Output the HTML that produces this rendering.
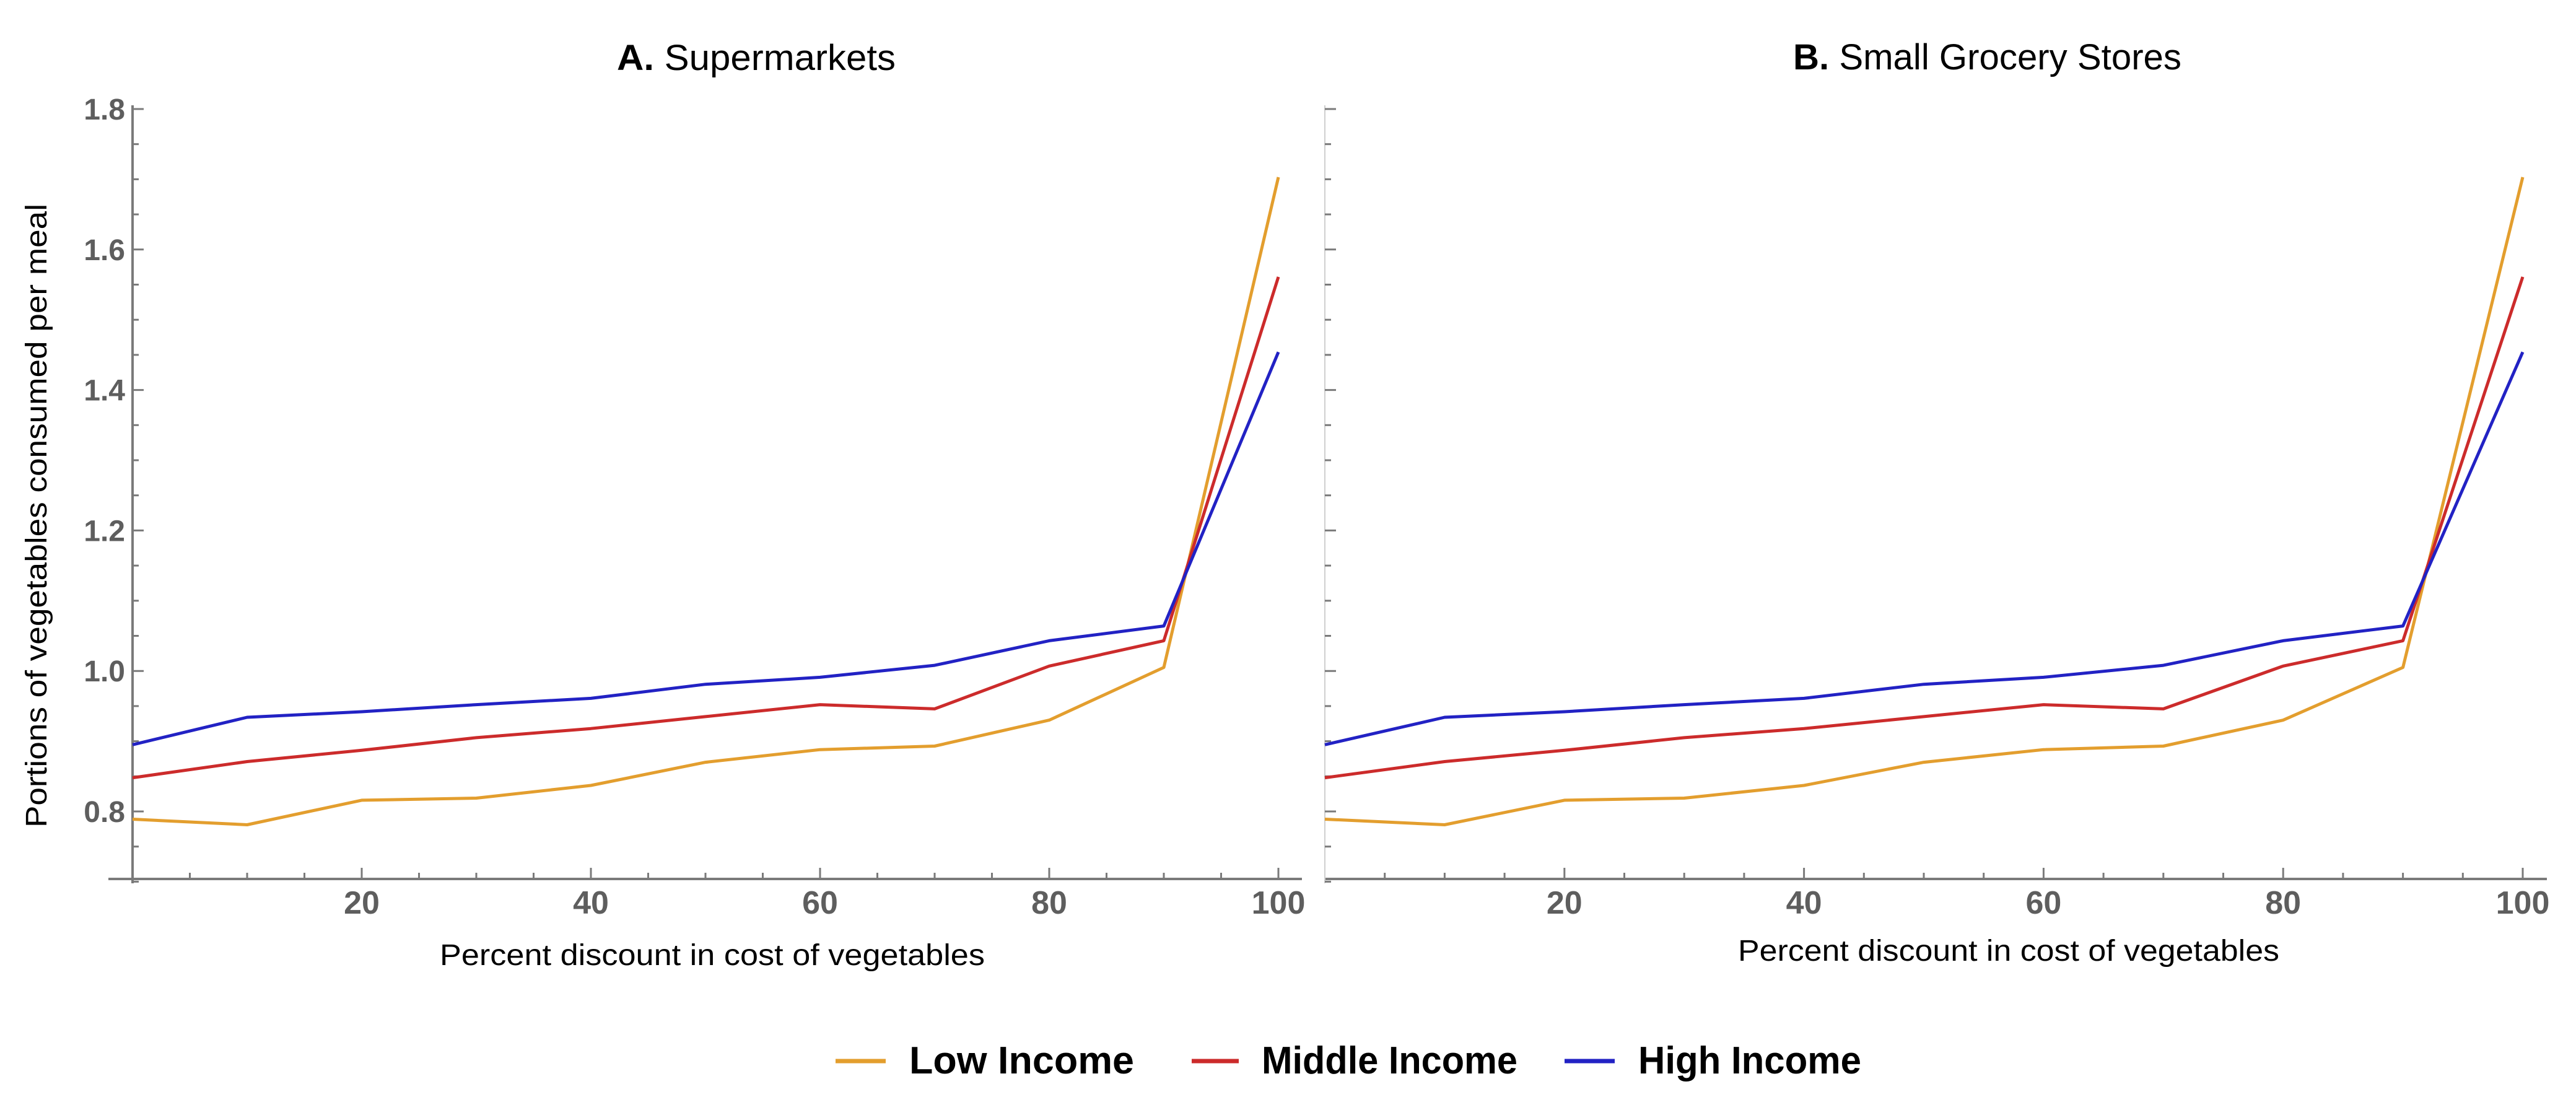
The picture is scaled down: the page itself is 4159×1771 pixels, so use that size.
<!DOCTYPE html>
<html><head><meta charset="utf-8"><style>
html,body{margin:0;padding:0;background:#fff;}
svg{display:block;}
</style></head><body>
<svg id="chart" width="4159" height="1771" viewBox="0 0 4159 1771" xmlns="http://www.w3.org/2000/svg" font-family="'Liberation Sans', sans-serif">
<g id="root"></g>
</svg>
<script>
const xValues = [0,10,20,30,40,50,60,70,80,90,100];
const lowIncome = [0.789,0.781,0.816,0.819,0.837,0.870,0.888,0.893,0.930,1.005,1.703];
const middleIncome = [0.848,0.871,0.887,0.905,0.918,0.935,0.952,0.946,1.007,1.043,1.561];
const highIncome = [0.895,0.934,0.942,0.952,0.961,0.981,0.991,1.008,1.043,1.064,1.454];
const yTickLabels = ["0.8","1.0","1.2","1.4","1.6","1.8"];
const yTickValues = [0.8,1.0,1.2,1.4,1.6,1.8];
const xTickValues = [20,40,60,80,100];
const seriesNames = ["Low Income","Middle Income","High Income"];

const NS="http://www.w3.org/2000/svg";
const root=document.getElementById('root');
function mk(tag,attrs,parent){const e=document.createElementNS(NS,tag);for(const k in attrs)e.setAttribute(k,attrs[k]);(parent||root).appendChild(e);return e;}

const colors=["#E39E2E","#CC2B2B","#2222C4"];
const series=[lowIncome,middleIncome,highIncome];
const seriesKeys=["low-income","middle-income","high-income"];

function yScale(v){return 1310 + (0.8 - v) * 1134;}

const panels=[
  {key:"a", x0:214, x100:2064, axisLeft:175, axisRight:2102, labels:true, axisColor:"#7a7a7a"},
  {key:"b", x0:2139, x100:4073, axisLeft:2139, axisRight:4112, labels:false, axisColor:"#cfcfcf"}
];

panels.forEach(p=>{
  const g=mk('g',{});
  
  
  const xs=v=>p.x0+(v/100)*(p.x100-p.x0);
  const axisY=1419;
  const xa=mk('line',{x1:p.axisLeft,y1:axisY,x2:p.axisRight,y2:axisY,stroke:"#7a7a7a","stroke-width":4},g);
  
  
  for(let v=5; v<=100; v+=5){
    const major=(v%20===0);
    const t=mk('line',{x1:xs(v),y1:axisY,x2:xs(v),y2:axisY-(major?18:10),stroke:"#7a7a7a","stroke-width":3},g);
    
    
  }
  xTickValues.forEach(v=>{
    const t=mk('text',{x:xs(v),y:1475,"text-anchor":"middle","font-size":52,"font-weight":"bold",fill:"#5e5e5e"},g);
    t.textContent=String(v);
    
    
  });
  const ya=mk('line',{x1:p.x0,y1:170,x2:p.x0,y2:1426,stroke:p.axisColor,"stroke-width":p.labels?4:2},g);
  
  
  for(let k=0; k<=22; k++){
    const v=0.70+k*0.05;
    if(v>1.801) break;
    const major=(Math.round(v*100)%20===0);
    const t=mk('line',{x1:p.x0,y1:yScale(v),x2:p.x0+(major?18:10),y2:yScale(v),stroke:"#7a7a7a","stroke-width":3},g);
    
    
  }
  if(p.labels){
    yTickValues.forEach((v,i)=>{
      const t=mk('text',{x:202,y:yScale(v)+17,"text-anchor":"end","font-size":48,"font-weight":"bold",fill:"#5e5e5e"},g);
      t.textContent=yTickLabels[i];
      
      
    });
  }
  series.forEach((vals,si)=>{
    const pts=vals.map((v,i)=>xs(xValues[i]).toFixed(1)+","+yScale(v).toFixed(1)).join(" ");
    const pl=mk('polyline',{points:pts,fill:"none",stroke:colors[si],"stroke-width":5,"stroke-linejoin":"round"},g);
    
    
  });
});
</script>
<svg style="position:absolute;left:0;top:0" width="4159" height="1771" viewBox="0 0 4159 1771" xmlns="http://www.w3.org/2000/svg" font-family="'Liberation Sans', sans-serif">
  <text x="996" y="113" font-size="58" textLength="450" lengthAdjust="spacingAndGlyphs"><tspan font-weight="bold">A.</tspan> Supermarkets</text>
  <text x="2895" y="112" font-size="58" textLength="627" lengthAdjust="spacingAndGlyphs"><tspan font-weight="bold">B.</tspan> Small Grocery Stores</text>
  <text x="710" y="1558" font-size="48" textLength="880" lengthAdjust="spacingAndGlyphs">Percent discount in cost of vegetables</text>
  <text x="2806" y="1551" font-size="48" textLength="874" lengthAdjust="spacingAndGlyphs">Percent discount in cost of vegetables</text>
  <text transform="translate(75,1336) rotate(-90)" font-size="48" textLength="1007" lengthAdjust="spacingAndGlyphs">Portions of vegetables consumed per meal</text>
  <g>
    <g>
      <line x1="1349" y1="1713" x2="1430" y2="1713" stroke="#E39E2E" stroke-width="7"/>
      <text x="1468" y="1733" font-size="62" font-weight="bold" textLength="363" lengthAdjust="spacingAndGlyphs">Low Income</text>
    </g>
    <g>
      <line x1="1924" y1="1713" x2="2000" y2="1713" stroke="#CC2B2B" stroke-width="7"/>
      <text x="2037" y="1733" font-size="62" font-weight="bold" textLength="413" lengthAdjust="spacingAndGlyphs">Middle Income</text>
    </g>
    <g>
      <line x1="2526" y1="1713" x2="2607" y2="1713" stroke="#2222C4" stroke-width="7"/>
      <text x="2645" y="1733" font-size="62" font-weight="bold" textLength="360" lengthAdjust="spacingAndGlyphs">High Income</text>
    </g>
  </g>
</svg>
</body></html>
